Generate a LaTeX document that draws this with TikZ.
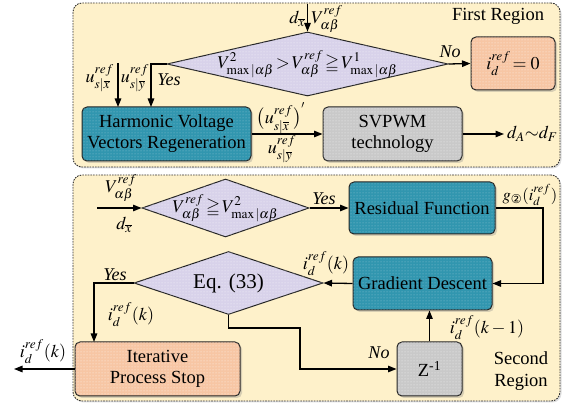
\documentclass[tikz,border=0pt]{standalone}
\usepackage{amsmath,amssymb}
\usepackage{mathptmx}
\usepackage{fontspec}
\setmainfont{Liberation Serif}
\newfontfamily\dejavu{DejaVu Sans}
\usetikzlibrary{shapes.geometric,arrows.meta,shadows,patterns}
\definecolor{cBg}{HTML}{FEF1CA}
\definecolor{cTeal}{HTML}{3196AF}
\definecolor{cLav}{HTML}{D8D2EA}
\definecolor{cSalm}{HTML}{F7C6A4}
\definecolor{cGrey}{HTML}{C9C9C9}
\newcommand{\zb}[1]{\makebox[0pt]{#1}}
\tikzset{
  region/.style={draw=black!80, line width=0.9pt, dash pattern=on 1.6pt off 1.1pt, rounded corners=9pt, fill=cBg,
     drop shadow={shadow xshift=1.5pt, shadow yshift=-1.5pt, opacity=0.25}},
  basebox/.style={draw=black!85, line width=1pt, rounded corners=5pt, align=center, inner sep=2pt,
     font=\fontsize{18.5}{21}\selectfont,
     drop shadow={shadow xshift=2pt, shadow yshift=-2pt, opacity=0.3}},
  tealbox/.style={basebox, fill=cTeal, postaction={pattern=dots, pattern color=cTeal!55!white}},
  salmbox/.style={basebox, fill=cSalm, postaction={pattern=dots, pattern color=white!80!cSalm}},
  greybox/.style={basebox, fill=cGrey, postaction={pattern=dots, pattern color=white!75!cGrey}},
  dia/.style={diamond, draw=black!85, line width=1pt, fill=cLav, inner sep=0pt,
     postaction={pattern=dots, pattern color=white!80!cLav}},
  conn/.style={line width=1.3pt, -{Triangle[length=8.5pt,width=6.5pt]}},
  lbl/.style={inner sep=0pt},
}
\begin{document}
\begin{tikzpicture}[x=1pt,y=-1pt,font=\fontsize{18}{21}\selectfont]
\useasboundingbox (0,0) rectangle (571,406);
% regions
\node[region, minimum width=487pt, minimum height=164pt] (reg1) at (316.5,85) {};
\node[region, minimum width=487pt, minimum height=226pt] (reg2) at (316.5,288) {};
\node[lbl, font=\fontsize{18.5}{21}\selectfont] (t1) at (498,16) {First Region};
\node[lbl, align=center, font=\fontsize{18.5}{22}\selectfont] (t2) at (521,371) {Second\\Region};

% ---------- first region ----------
\node[dia, aspect=4.4, minimum width=281pt, minimum height=64pt] (d1) at (307.5,64)
  {\zb{$V^{2}_{\max|\alpha\beta}\!>\!V^{ref}_{\alpha\beta}\!\geqq\!V^{1}_{\max|\alpha\beta}$}};
\node[salmbox, minimum width=84pt, minimum height=53pt, font=\fontsize{18}{21}\selectfont] (z0) at (513,63.5) {$i_d^{ref}\!=0$};
\node[tealbox, minimum width=169pt, minimum height=54pt] (hv) at (166.5,134)
  {Harmonic Voltage\\Vectors Regeneration};
\node[greybox, minimum width=139pt, minimum height=54pt] (sv) at (392.5,134)
  {SVPWM\\technology};

\coordinate (in1) at (307.5,4);
\coordinate (uin) at (118,63);
\coordinate (hvin1) at (118,107);
\coordinate (hvin2) at (151,107);
\coordinate (dout) at (504,134);

\draw[conn] (in1) -- (d1.north);
\draw[conn] (d1.east) -- (z0.west);
\draw[conn] (d1.west) -| (hvin2);
\draw[conn] (uin) -- (hvin1);
\draw[conn] (hv.east) -- (sv.west);
\draw[conn] (sv.east) -- (dout);

\node[lbl, anchor=east] (ld1) at (305,19) {$d_{\overline{x}}$};
\node[lbl, anchor=west] (lv1) at (311,19) {$V^{ref}_{\alpha\beta}$};
\node[lbl] (lno1) at (450,52) {\textit{No}};
\node[lbl] (lyes1) at (169,80) {\textit{Yes}};
\node[lbl, anchor=east] (lu1) at (114,78) {$u^{ref}_{s|\overline{x}}$};
\node[lbl] (lu2) at (135,78) {$u^{ref}_{s|\overline{y}}$};
\node[lbl] (lu3) at (281,118) {$\big(u^{ref}_{s|\overline{x}}\big)^{'}$};
\node[lbl] (lu4) at (282,149) {$u^{ref}_{s|\overline{y}}$};
\node[lbl, anchor=west] (ldd) at (507,134) {$d_A\mathord{\sim}d_F$};

% ---------- second region ----------
\node[dia, aspect=2.9, minimum width=167pt, minimum height=58pt] (d2) at (225.5,208)
  {\zb{$V^{ref}_{\alpha\beta}\!\geqq\!V^{2}_{\max|\alpha\beta}$}};
\node[tealbox, minimum width=146pt, minimum height=52pt] (rf) at (422,208) {Residual Function};
\node[tealbox, minimum width=139pt, minimum height=53pt] (gd) at (422.5,283.5) {Gradient Descent};
\node[dia, aspect=3, minimum width=189pt, minimum height=63pt, font=\fontsize{21}{24}\selectfont] (d3) at (228.5,283) {\zb{Eq. (33)}};
\node[salmbox, minimum width=165pt, minimum height=54pt] (ip) at (157.5,369) {Iterative\\Process Stop};
\node[greybox, minimum width=65pt, minimum height=54pt] (zz) at (429.5,369) {Z\textsuperscript{-1}};

\coordinate (in2) at (97,208);
\coordinate (c1) at (543,208);
\coordinate (ipin) at (94,342);
\coordinate (out2) at (14,369);
\coordinate (c2) at (300,328);

\draw[conn] (in2) -- (d2.west);
\draw[conn] (d2.east) -- (rf.west);
\draw[conn] (rf.east) -- (c1) |- (gd.east);
\draw[conn] (gd.west) -- (d3.east);
\draw[conn] (d3.west) -| (ipin);
\draw[conn] (ip.west) -- (out2);
\draw[conn] (d3.south) |- (c2) |- (zz.west);
\draw[conn] (zz.north) -- (zz.north |- gd.south);

\node[lbl] (lv2) at (121,188) {$V^{ref}_{\alpha\beta}$};
\node[lbl] (ld2) at (124,225) {$d_{\overline{x}}$};
\node[lbl] (lyes2) at (324,199) {\textit{Yes}};
\node[lbl, font=\fontsize{16.5}{20}\selectfont] (lg) at (530,195) {$g_{\text{\dejavu ②}}(i_d^{ref})$};
\node[lbl] (lik1) at (326,264) {$i_d^{ref}(k)$};
\node[lbl] (lyes3) at (115,275) {\textit{Yes}};
\node[lbl] (lik2) at (131,315) {$i_d^{ref}(k)$};
\node[lbl] (lik3) at (43,352) {$i_d^{ref}(k)$};
\node[lbl] (lno2) at (379,353) {\textit{No}};
\node[lbl] (lik4) at (487,328) {$i_d^{ref}(k-1)$};
\end{tikzpicture}
\end{document}
